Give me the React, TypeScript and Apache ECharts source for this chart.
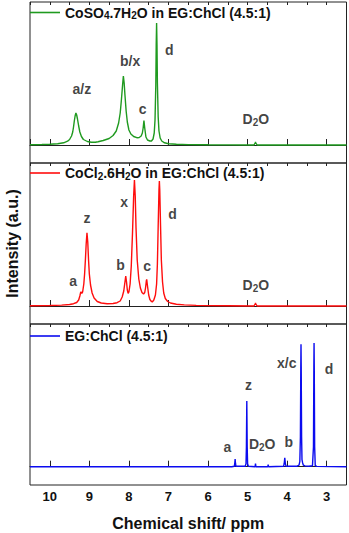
import React, { useEffect, useRef } from 'react';
import * as echarts from 'echarts';

const X_MIN = 2.5;
const X_MAX = 10.5;

const seriesNames = [
  'CoSO₄.7H₂O in EG:ChCl (4.5:1)',
  'CoCl₂.6H₂O in EG:ChCl (4.5:1)',
  'EG:ChCl (4.5:1)',
];
const seriesColors = ['#1f9a1f', '#ff0d0d', '#0b0bef'];

// [ppm, intensity (a.u.)]
const coso4Spectrum: [number, number][] = [
  [10.5, 0.3], [10.2, 0.5], [10.0, 0.7], [9.8, 1.2], [9.65, 2.2], [9.55, 3.8], [9.5, 5.5],
  [9.45, 9], [9.42, 13], [9.4, 18], [9.38, 24], [9.36, 29], [9.34, 32], [9.32, 30], [9.3, 26],
  [9.27, 19], [9.24, 13], [9.2, 8.5], [9.15, 5.5], [9.05, 3.5], [8.95, 2.8], [8.85, 2.8],
  [8.78, 3.3], [8.65, 4.5], [8.5, 6.5], [8.4, 9.5], [8.32, 14], [8.26, 22], [8.22, 32],
  [8.19, 45], [8.16, 60], [8.14, 69], [8.12, 62], [8.1, 50], [8.07, 34], [8.04, 23], [8.0, 15],
  [7.95, 11], [7.88, 8.5], [7.8, 7.3], [7.74, 7.5], [7.69, 9], [7.66, 12], [7.64, 17],
  [7.62, 24.3], [7.6, 17], [7.57, 8], [7.53, 5], [7.47, 4], [7.43, 4], [7.39, 6], [7.36, 12],
  [7.34, 25], [7.32, 60], [7.31, 100], [7.3, 122], [7.29, 100], [7.28, 62], [7.26, 28],
  [7.24, 14], [7.21, 7], [7.17, 4], [7.1, 2.2], [7.0, 1.3], [6.8, 0.7], [6.5, 0.4], [6.0, 0.2],
  [5.5, 0.1], [4.84, 0], [4.81, 2], [4.8, 3], [4.79, 2], [4.76, 0], [4.0, 0], [3.0, 0], [2.5, 0],
];

const cocl2Spectrum: [number, number][] = [
  [10.5, 0.3], [10.0, 0.5], [9.7, 0.9], [9.5, 1.5], [9.4, 2.3], [9.32, 3.5], [9.27, 6],
  [9.24, 10], [9.22, 13.5], [9.21, 14.3], [9.19, 12.5], [9.17, 14], [9.14, 22], [9.12, 32],
  [9.1, 46], [9.08, 62], [9.06, 73.3], [9.04, 64], [9.02, 46], [9.0, 32], [8.97, 21], [8.93, 13],
  [8.88, 8], [8.8, 4.5], [8.7, 3], [8.55, 2.3], [8.4, 2.5], [8.3, 3.3], [8.22, 5], [8.17, 9],
  [8.13, 15], [8.1, 24], [8.08, 30], [8.06, 24], [8.04, 16], [8.02, 12.7], [8.0, 14], [7.97, 22],
  [7.94, 40], [7.91, 72], [7.88, 110], [7.86, 126], [7.84, 110], [7.82, 78], [7.79, 46],
  [7.75, 27], [7.71, 18], [7.67, 13.5], [7.63, 12], [7.6, 13.5], [7.58, 18], [7.56, 25],
  [7.55, 26.7], [7.53, 20], [7.5, 11], [7.47, 6.5], [7.43, 4.5], [7.41, 4], [7.37, 6], [7.33, 11],
  [7.3, 22], [7.28, 42], [7.26, 80], [7.24, 116], [7.23, 125], [7.22, 116], [7.2, 80], [7.18, 46],
  [7.15, 24], [7.12, 13], [7.08, 7.5], [7.02, 4.5], [6.95, 3], [6.8, 1.8], [6.6, 1.1], [6.3, 0.6],
  [6.0, 0.4], [5.5, 0.2], [4.84, 0], [4.81, 2], [4.8, 3], [4.79, 2], [4.76, 0], [4.0, 0], [2.5, 0],
];

const egSpectrum: [number, number][] = [
  [10.5, 0], [5.4, 0], [5.335, 0.5], [5.325, 3], [5.315, 7.7], [5.305, 3], [5.295, 0.5],
  [5.06, 0.5], [5.04, 3], [5.03, 20], [5.02, 65.7], [5.01, 20], [5.0, 3], [4.98, 0.5],
  [4.81, 0], [4.8, 3], [4.79, 0], [4.49, 0], [4.48, 2], [4.47, 0], [4.09, 0.5], [4.075, 3],
  [4.06, 9], [4.045, 3], [4.03, 0.5], [3.75, 0.5], [3.7, 1.5], [3.68, 5], [3.665, 30],
  [3.655, 100], [3.65, 122.4], [3.645, 100], [3.635, 30], [3.625, 7], [3.61, 4], [3.59, 1.5],
  [3.55, 0.8], [3.45, 0.5], [3.36, 1], [3.335, 20], [3.325, 100], [3.32, 123.7], [3.315, 100],
  [3.305, 20], [3.29, 1], [3.25, 0.3], [2.5, 0],
];

// peak labels: [text, ppm, intensity]
const coso4Labels: [string, number, number][] = [
  ['a/z', 9.19, 55.7], ['b/x', 7.97, 84], ['c', 7.65, 36.3], ['d', 6.98, 95], ['D{s|2}O', 4.79, 26],
];
const cocl2Labels: [string, number, number][] = [
  ['a', 9.41, 25], ['z', 9.06, 88.3], ['b', 8.21, 41], ['x', 8.12, 103.7], ['c', 7.54, 40],
  ['d', 6.9, 92], ['D{s|2}O', 4.79, 21],
];
const egLabels: [string, number, number][] = [
  ['a', 5.51, 19.4], ['z', 4.98, 81.7], ['D{s|2}O', 4.63, 22.7], ['b', 3.96, 25],
  ['x/c', 4.01, 103.4], ['d', 2.94, 97.4],
];

const legendRich: Record<string, string> = {
  'CoSO₄.7H₂O in EG:ChCl (4.5:1)': 'CoSO{s|4}.7H{s|2}O in EG:ChCl (4.5:1)',
  'CoCl₂.6H₂O in EG:ChCl (4.5:1)': 'CoCl{s|2}.6H{s|2}O in EG:ChCl (4.5:1)',
  'EG:ChCl (4.5:1)': 'EG:ChCl (4.5:1)',
};

const FONT = '"Liberation Sans", Arial, sans-serif';

export default function App() {
  const ref = useRef<HTMLDivElement>(null);
  useEffect(() => {
    if (!ref.current) return;
    const chart = echarts.init(ref.current, undefined, { renderer: 'svg' });
    const spectra = [coso4Spectrum, cocl2Spectrum, egSpectrum];
    const labels = [coso4Labels, cocl2Labels, egLabels];
    const tops = [2, 163, 324];
    const yRanges: [number, number][] = [[-18, 143], [-18, 143], [-18.3, 142.7]];
    const legendTops = [4.5, 165, 328];
    const subRich = {
      s: { fontSize: 10, fontWeight: 'bold', fontFamily: FONT, lineHeight: 6, verticalAlign: 'bottom', color: '#111' },
    };

    const grids = tops.map((t) => ({
      left: 30, right: 2.5, top: t, height: 161, show: true, containLabel: false,
      outerBoundsMode: 'none',
      borderColor: '#222', borderWidth: 1, backgroundColor: 'transparent',
    }));
    const xAxes: any[] = [];
    tops.forEach((_, i) => {
      xAxes.push({
        type: 'value', gridIndex: i, min: X_MIN, max: X_MAX, inverse: true,
        splitNumber: 8, minInterval: 1, maxInterval: 1,
        axisLine: { show: true, lineStyle: { color: '#222', width: 1 } },
        axisTick: { show: true, inside: true, length: 6, lineStyle: { color: '#222', width: 1 } },
        axisLabel: {
          show: i === 2, showMinLabel: false, showMaxLabel: false, margin: 5,
          fontSize: 13, fontWeight: 'bold', fontFamily: FONT, color: '#111',
        },
        splitLine: { show: false },
        name: i === 2 ? 'Chemical shift/ ppm' : '',
        nameLocation: 'middle', nameGap: 30,
        nameTextStyle: { fontSize: 16, fontWeight: 'bold', fontFamily: FONT, color: '#111' },
      });
      xAxes.push({
        type: 'value', gridIndex: i, min: X_MIN, max: X_MAX, inverse: true, interval: 0.5,
        axisLine: { show: false },
        axisTick: { show: true, inside: true, length: 3, lineStyle: { color: '#222', width: 1 } },
        axisLabel: { show: false }, splitLine: { show: false },
      });
    });
    const yAxes = tops.map((_, i) => ({
      type: 'value', gridIndex: i, min: yRanges[i][0], max: yRanges[i][1],
      axisLine: { show: false }, axisTick: { show: false }, axisLabel: { show: false },
      splitLine: { show: false },
      name: i === 1 ? 'Intensity (a.u.)' : '', nameLocation: 'middle', nameGap: 10, nameRotate: 90,
      nameTextStyle: { fontSize: 16, fontWeight: 'bold', fontFamily: FONT, color: '#111' },
    }));

    const series: any[] = [];
    spectra.forEach((data, i) => {
      series.push({
        name: seriesNames[i], type: 'line', xAxisIndex: 2 * i, yAxisIndex: i,
        data, showSymbol: false, symbol: 'none', smooth: false,
        lineStyle: { color: seriesColors[i], width: 1.4 }, itemStyle: { color: seriesColors[i] },
        silent: true,
      });
      series.push({
        type: 'scatter', xAxisIndex: 2 * i, yAxisIndex: i, symbolSize: 0, silent: true,
        data: labels[i].map(([n, x, y]) => ({ name: n, value: [x, y] })),
        label: {
          show: true, position: 'inside', formatter: (p: any) => p.name,
          fontSize: 14, fontWeight: 'bold', fontFamily: FONT, color: '#111', lineHeight: 16,
          rich: subRich,
        },
      });
    });

    const legends = tops.map((_, i) => ({
      data: [seriesNames[i]], left: 30, top: legendTops[i], padding: 0,
      icon: 'rect', itemWidth: 30, itemHeight: 1.6, itemGap: 5,
      formatter: (n: string) => legendRich[n] || n,
      textStyle: {
        fontSize: 14, fontWeight: 'bold', fontFamily: FONT, color: '#111', lineHeight: 16,
        rich: { s: { fontSize: 10, fontWeight: 'bold', fontFamily: FONT, lineHeight: 6, verticalAlign: 'bottom', color: '#111' } },
      },
      selectedMode: false,
    }));

    chart.setOption({
      animation: false,
      backgroundColor: '#fff',
      grid: grids,
      xAxis: xAxes,
      yAxis: yAxes,
      legend: legends,
      series,
    });
    return () => chart.dispose();
  }, []);
  return (
    <div
      ref={ref}
      style={{ position: 'fixed', left: 0, top: 0, width: 349, height: 533, background: '#fff' }}
    />
  );
}
